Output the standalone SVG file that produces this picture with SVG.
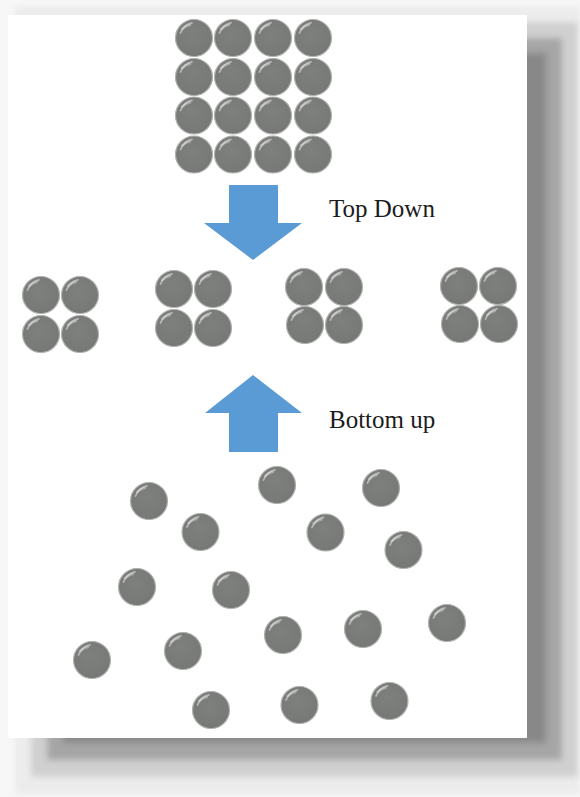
<svg xmlns="http://www.w3.org/2000/svg" xmlns:xlink="http://www.w3.org/1999/xlink" width="580" height="797" viewBox="0 0 580 797">
  <style>
    .label { font-family: "Liberation Serif", "Times New Roman", serif; font-size: 25px; fill: #1c1c1c; }
    .arrow { fill: #5b9bd5; }
  </style>
  <defs>
    <radialGradient id="ballFill" cx="0.45" cy="0.4" r="0.6">
      <stop offset="0" stop-color="#7e807d"/>
      <stop offset="0.85" stop-color="#787a77"/>
      <stop offset="1" stop-color="#757774"/>
    </radialGradient>
    <filter id="soft" x="-5%" y="-5%" width="110%" height="110%">
      <feGaussianBlur stdDeviation="3"/>
    </filter>
    <g id="ball">
      <circle r="18.5" fill="url(#ballFill)" stroke="#b0b2af" stroke-width="1.2"/>
      <path d="M -13.5,-5 Q -10,-13.5 -2,-15.2" fill="none" stroke="#ffffff" stroke-opacity="0.45" stroke-width="1.8" stroke-linecap="round"/>
      <path d="M -12,-9 Q -8,-12.5 -4,-13" fill="none" stroke="#ffffff" stroke-opacity="0.3" stroke-width="2.5" stroke-linecap="round"/>
    </g>
  </defs>

  <!-- background and page shadow -->
  <g id="page">
    <rect x="0" y="0" width="580" height="797" fill="#f7f7f7"/>
    <g filter="url(#soft)">
      <rect x="15" y="6" width="565" height="789" fill="#ececec"/>
      <rect x="31" y="22" width="547" height="755" fill="#d0d0d0"/>
      <rect x="47" y="38" width="515" height="722" fill="#a6a6a6"/>
      <rect x="63" y="53" width="483" height="690" fill="#888888"/>
    </g>
    <rect x="8" y="15" width="519" height="723" fill="#ffffff"/>
  </g>

  <!-- top 4x4 grid -->
  <g id="grid">
    <use xlink:href="#ball" x="194" y="38"/>
    <use xlink:href="#ball" x="233" y="38"/>
    <use xlink:href="#ball" x="273" y="38"/>
    <use xlink:href="#ball" x="313" y="38"/>
    <use xlink:href="#ball" x="194" y="77"/>
    <use xlink:href="#ball" x="233" y="77"/>
    <use xlink:href="#ball" x="273" y="77"/>
    <use xlink:href="#ball" x="313" y="77"/>
    <use xlink:href="#ball" x="194" y="115.5"/>
    <use xlink:href="#ball" x="233" y="115.5"/>
    <use xlink:href="#ball" x="273" y="115.5"/>
    <use xlink:href="#ball" x="313" y="115.5"/>
    <use xlink:href="#ball" x="194" y="154.5"/>
    <use xlink:href="#ball" x="233" y="154.5"/>
    <use xlink:href="#ball" x="273" y="154.5"/>
    <use xlink:href="#ball" x="313" y="154.5"/>
  </g>

  <!-- middle clusters -->
  <g id="cluster1">
    <use xlink:href="#ball" x="41" y="295"/>
    <use xlink:href="#ball" x="80" y="295"/>
    <use xlink:href="#ball" x="41" y="334"/>
    <use xlink:href="#ball" x="80" y="334"/>
  </g>
  <g id="cluster2">
    <use xlink:href="#ball" x="174" y="289"/>
    <use xlink:href="#ball" x="213" y="289"/>
    <use xlink:href="#ball" x="174" y="328"/>
    <use xlink:href="#ball" x="213" y="328"/>
  </g>
  <g id="cluster3">
    <use xlink:href="#ball" x="304" y="287"/>
    <use xlink:href="#ball" x="344" y="287"/>
    <use xlink:href="#ball" x="305" y="325"/>
    <use xlink:href="#ball" x="344" y="325"/>
  </g>
  <g id="cluster4">
    <use xlink:href="#ball" x="459" y="286"/>
    <use xlink:href="#ball" x="498" y="286"/>
    <use xlink:href="#ball" x="460" y="324"/>
    <use xlink:href="#ball" x="499" y="324"/>
  </g>

  <!-- scattered atoms -->
  <g id="scattered">
    <use xlink:href="#ball" x="149" y="501"/>
    <use xlink:href="#ball" x="200.5" y="532"/>
    <use xlink:href="#ball" x="277" y="485"/>
    <use xlink:href="#ball" x="381" y="488"/>
    <use xlink:href="#ball" x="325.5" y="532.5"/>
    <use xlink:href="#ball" x="403.5" y="550"/>
    <use xlink:href="#ball" x="137" y="587"/>
    <use xlink:href="#ball" x="231" y="590"/>
    <use xlink:href="#ball" x="283" y="635"/>
    <use xlink:href="#ball" x="363" y="629"/>
    <use xlink:href="#ball" x="447" y="623"/>
    <use xlink:href="#ball" x="92" y="660"/>
    <use xlink:href="#ball" x="183" y="651"/>
    <use xlink:href="#ball" x="211" y="710"/>
    <use xlink:href="#ball" x="299.5" y="705"/>
    <use xlink:href="#ball" x="389.5" y="701"/>
  </g>

  <!-- arrows -->
  <g id="connectors">
    <polygon id="arrowDown" class="arrow" points="229,185 278,185 278,223 302,223 253,260 204,223 229,223"/>
    <polygon id="arrowUp" class="arrow" points="253,375 302,413 278,413 278,452 229,452 229,413 205,413"/>
  </g>

  <g id="labels">
    <text class="label" x="329" y="217">Top Down</text>
    <text class="label" x="329" y="428">Bottom up</text>
  </g>
</svg>
